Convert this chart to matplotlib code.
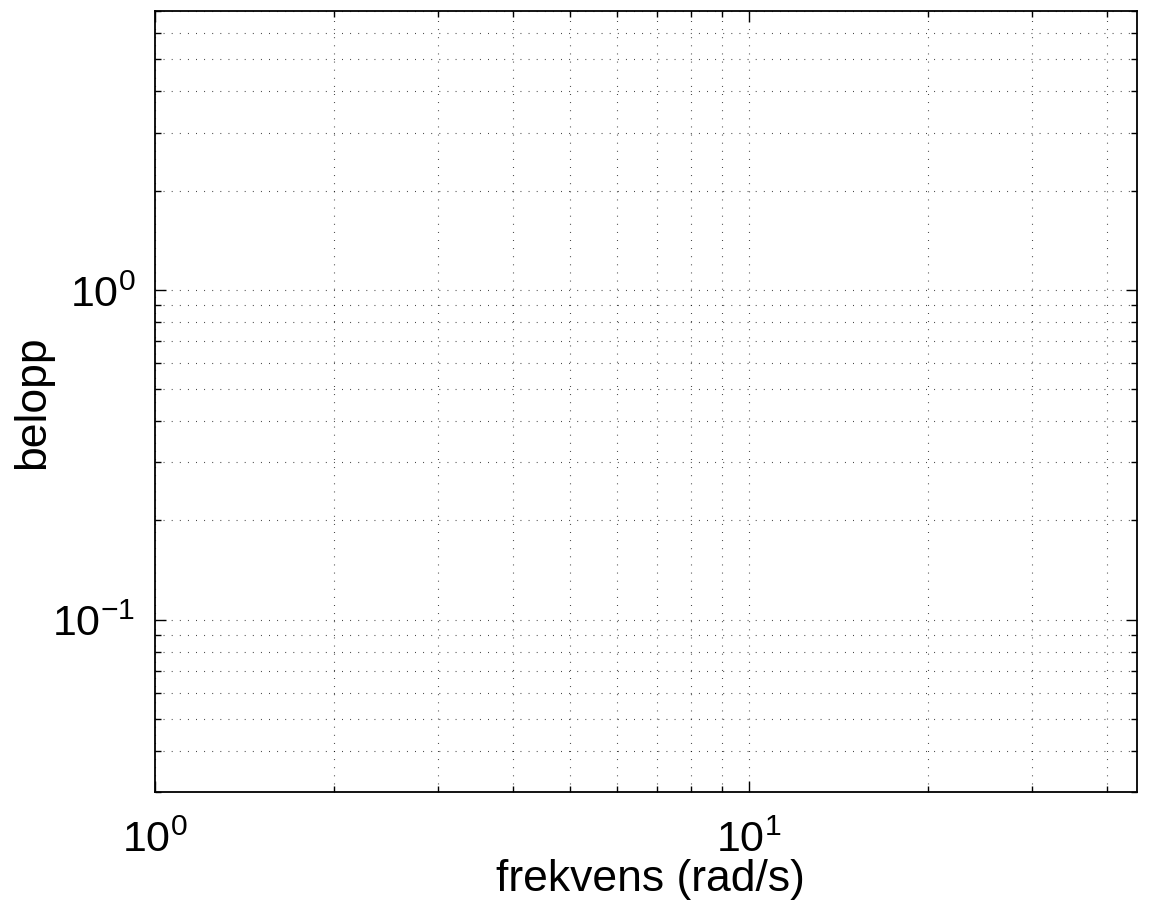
import matplotlib
matplotlib.use('Agg')
import matplotlib.pyplot as plt
from matplotlib.ticker import LogLocator, FuncFormatter, NullFormatter
import numpy as np

# axis ranges and labels (the chart has no plotted series)
x_range = [1, 45]
y_range = [0.03, 7]
x_label = 'frekvens (rad/s)'
y_label = 'belopp'

plt.rcParams['font.family'] = ['Liberation Sans', 'DejaVu Sans']
plt.rcParams['mathtext.fontset'] = 'custom'
plt.rcParams['mathtext.rm'] = 'Liberation Sans'
plt.rcParams['mathtext.it'] = 'Liberation Sans'
plt.rcParams['mathtext.default'] = 'regular'


def dec_label(v, pos):
    # MATLAB-style 10^n labels
    e = int(round(np.log10(v)))
    return r'$10^{%d}$' % e


fig = plt.figure(figsize=(11.67, 9.12), dpi=100)
ax = fig.add_axes([0.1328, 0.1305, 0.8415, 0.856])
ax.set_xscale('log')
ax.set_yscale('log')
ax.set_xlim(x_range)
ax.set_ylim(y_range)

for a in (ax.xaxis, ax.yaxis):
    a.set_major_locator(LogLocator(base=10))
    a.set_minor_locator(LogLocator(base=10, subs=range(2, 10)))
    a.set_major_formatter(FuncFormatter(dec_label))
    a.set_minor_formatter(NullFormatter())

# dotted grid on major and minor ticks
grid_style = dict(color='black', linewidth=0.8, linestyle=(0, (0.8, 6.5)), alpha=0.8)
ax.grid(True, which='major', **grid_style)
ax.grid(True, which='minor', **grid_style)

ax.tick_params(which='both', direction='in', top=True, right=True, width=1.0)
ax.tick_params(which='major', length=8, labelsize=31)
ax.tick_params(which='minor', length=4)
ax.tick_params(axis='x', which='major', pad=20)
ax.tick_params(axis='y', which='major', pad=14)
for s in ax.spines.values():
    s.set_linewidth(1.3)

ax.set_xlabel(x_label, fontsize=32)
ax.set_ylabel(y_label, fontsize=32)
ax.xaxis.set_label_coords(0.505, -0.084)
ax.yaxis.set_label_coords(-0.104, 0.5)

fig.savefig('out.png', dpi=100)
